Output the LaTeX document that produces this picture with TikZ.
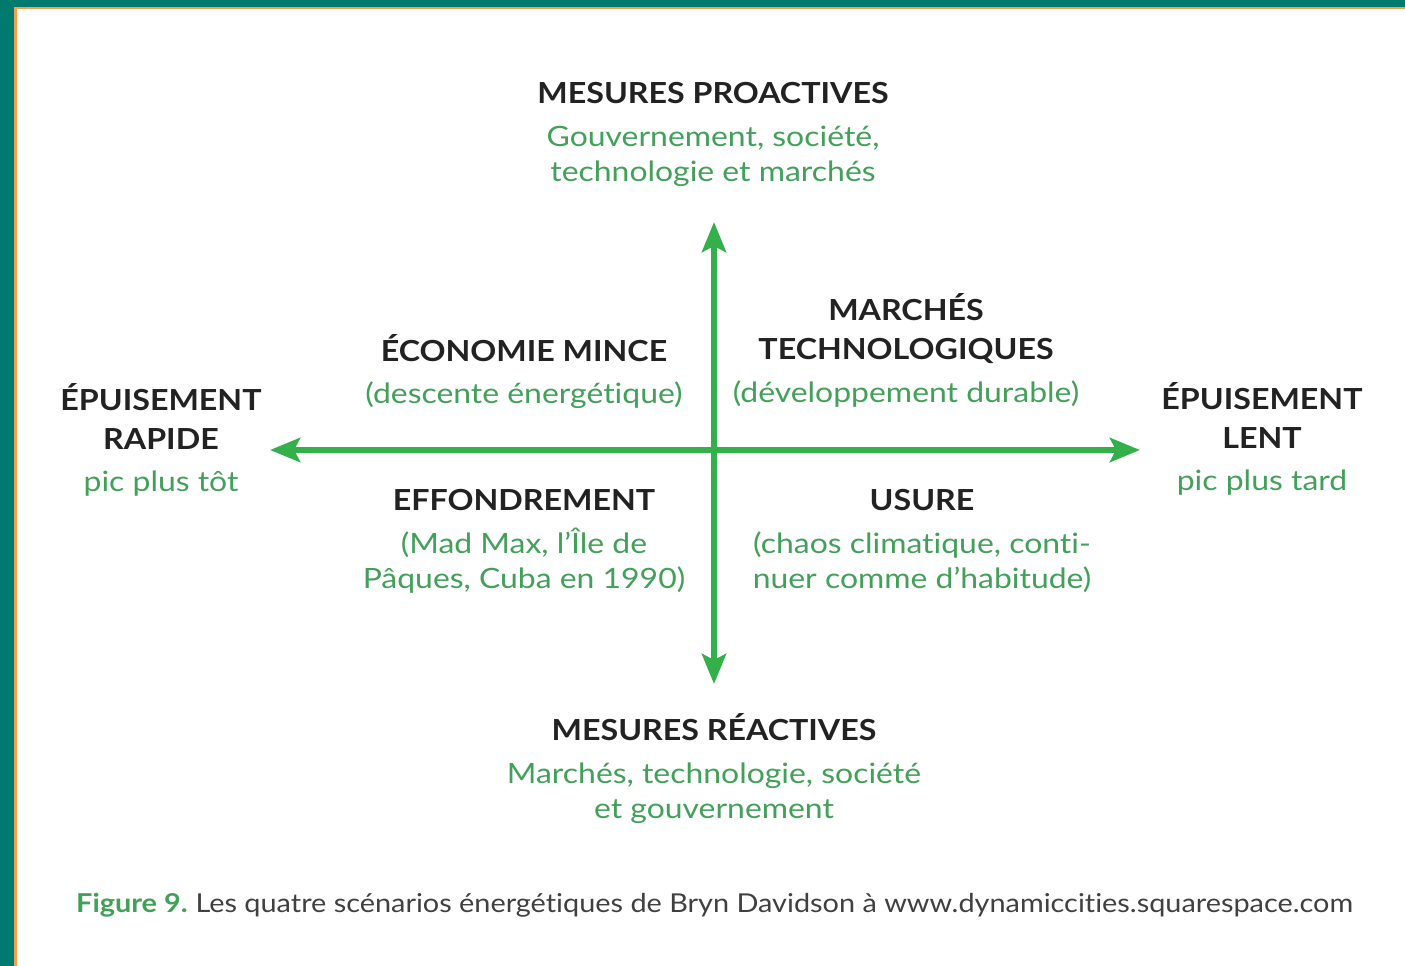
\documentclass[tikz,border=0pt]{standalone}
\usepackage{fontspec}
\setmainfont[Ligatures=NoCommon]{Lato}
\newfontfamily\headfont[FakeStretch=1.11,Ligatures=NoCommon]{Lato}
\newfontfamily\subfont[FakeStretch=1.14,Ligatures=NoCommon]{Lato}
\newfontfamily\capfont[FakeStretch=1.11,Ligatures=NoCommon]{Lato}
\usetikzlibrary{arrows.meta}
\definecolor{teal}{HTML}{007A6E}
\definecolor{orng}{HTML}{F5A04A}
\definecolor{arrowgreen}{HTML}{33B04A}
\definecolor{txtgreen}{HTML}{43A05A}
\definecolor{ink}{HTML}{222222}
\definecolor{capgray}{HTML}{404040}
\tikzset{
  head/.style={anchor=base, text=ink, font=\headfont\fontsize{29}{35}\selectfont\bfseries, inner sep=0pt},
  sub/.style={anchor=base, text=txtgreen, font=\subfont\fontsize{28}{34}\selectfont, inner sep=0pt},
  axis/.style={draw=arrowgreen, line width=6pt, -{Stealth[length=30pt, width=24pt, inset=6pt]}},
}
\begin{document}
\begin{tikzpicture}[x=1pt, y=-1pt]
\useasboundingbox (0,0) rectangle (1405,966);
\fill[white] (0,0) rectangle (1405,966);
\fill[teal] (0,0) rectangle (1405,7);
\fill[teal] (0,0) rectangle (14,966);
\fill[orng] (14,7) rectangle (1405,9.5);
\fill[orng] (14,7) rectangle (16.5,966);

% axes
\coordinate (C) at (714,450);
\coordinate (T) at (714,222);
\coordinate (B) at (714,684);
\coordinate (L) at (270,450);
\coordinate (R) at (1140,450);
\draw[axis] (C) -- (T);
\draw[axis] (C) -- (B);
\draw[axis] (C) -- (L);
\draw[axis] (C) -- (R);

% top
\node[head] (pro) at (713,103) {MESURES PROACTIVES};
\node[sub] (pro1) at (713,146) {Gouvernement, société,};
\node[sub] (pro2) at (713,181) {technologie et marchés};

% upper left
\node[head] (eco) at (524,361) {ÉCONOMIE MINCE};
\node[sub] (eco1) at (524,403) {(descente énergétique)};

% upper right
\node[head] (mar1) at (906,320) {MARCHÉS};
\node[head] (mar2) at (906,359) {TECHNOLOGIQUES};
\node[sub] (mar3) at (906,402) {(développement durable)};

% left
\node[head] (epl1) at (161,410) {ÉPUISEMENT};
\node[head] (epl2) at (161,449) {RAPIDE};
\node[sub] (epl3) at (161,491) {pic plus tôt};

% right
\node[head] (epr1) at (1262,409) {ÉPUISEMENT};
\node[head] (epr2) at (1262,448) {LENT};
\node[sub] (epr3) at (1262,490) {pic plus tard};

% lower left
\node[head] (eff) at (524,510) {EFFONDREMENT};
\node[sub] (eff1) at (524,553) {(Mad Max, l’Île de};
\node[sub] (eff2) at (524,588) {Pâques, Cuba en 1990)};

% lower right
\node[head] (usu) at (922,510) {USURE};
\node[sub] (usu1) at (922,553) {(chaos climatique, conti-};
\node[sub] (usu2) at (922,588) {nuer comme d’habitude)};

% bottom
\node[head] (rea) at (714,740) {MESURES RÉACTIVES};
\node[sub] (rea1) at (714,783) {Marchés, technologie, société};
\node[sub] (rea2) at (714,818) {et gouvernement};

% caption
\node[anchor=base west, inner sep=0pt, font=\capfont\fontsize{26}{30}\selectfont, text=capgray] (cap) at (76,912)
  {\textcolor{txtgreen}{\bfseries Figure 9.}\hspace{-2pt} Les quatre scénarios énergétiques de Bryn Davidson à www.dynamiccities.squarespace.com};
\end{tikzpicture}
\end{document}
